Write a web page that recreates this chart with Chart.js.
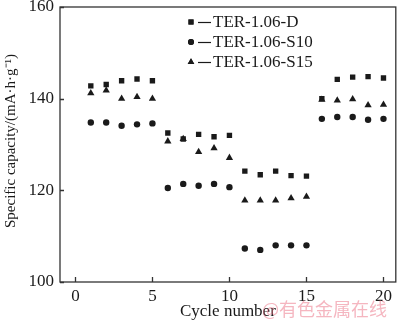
<!DOCTYPE html>
<html>
<head>
<meta charset="utf-8">
<script src="https://cdn.jsdelivr.net/npm/chart.js@4"></script>
<style>
  html, body { margin: 0; padding: 0; background: #fff; }
  #wrap { width: 400px; height: 323px; }
</style>
</head>
<body>
<div id="wrap"><canvas id="chart"></canvas></div>
<script>
// cycle numbers
const cycles = [1, 2, 3, 4, 5, 6, 7, 8, 9, 10, 11, 12, 13, 14, 15, 16, 17, 18, 19, 20];

// specific capacity, mA·h/g
const terD   = [142.8, 143.1, 143.9, 144.3, 143.9, 132.5, 131.2, 132.2, 131.7, 132.0,
                124.2, 123.4, 124.2, 123.2, 123.1, 140.0, 144.2, 144.7, 144.8, 144.5];
const terS10 = [134.8, 134.8, 134.1, 134.4, 134.6, 120.5, 121.4, 121.0, 121.4, 120.7,
                107.3, 107.0, 108.0, 108.0, 108.0, 135.6, 136.0, 136.0, 135.4, 135.6];
const terS15 = [141.2, 141.8, 140.0, 140.4, 140.0, 130.7, 131.2, 128.4, 129.2, 127.1,
                117.8, 117.8, 117.8, 118.3, 118.6, 139.8, 139.6, 139.9, 138.6, 138.7];

const seriesNames = ['TER-1.06-D', 'TER-1.06-S10', 'TER-1.06-S15'];
const xTicks = [0, 5, 10, 15, 20];
const yTicks = [100, 120, 140, 160];
const yTitle = 'Specific capacity/(mA·h·g⁻¹)';

const ink = '#1a1a1a';
const serif = '"Liberation Serif", "Times New Roman", serif';

function toPoints(vals) {
    return vals.map((v, i) => ({ x: cycles[i], y: v }));
}

// frame, inward ticks, y title, legend and watermark
const decor = {
    id: 'decor',
    afterDraw(chart) {
        const ctx = chart.ctx;
        const a = chart.chartArea;
        const xs = chart.scales.x, ys = chart.scales.y;
        ctx.save();
        ctx.strokeStyle = '#333';
        ctx.lineWidth = 1.3;
        ctx.strokeRect(a.left, a.top, a.right - a.left, a.bottom - a.top);
        ctx.beginPath();
        xTicks.forEach(t => {
            const px = Math.round(xs.getPixelForValue(t)) + 0.5;
            ctx.moveTo(px, a.bottom);
            ctx.lineTo(px, a.bottom - 5);
        });
        yTicks.forEach(t => {
            const py = Math.round(ys.getPixelForValue(t)) + 0.5;
            ctx.moveTo(a.left, py);
            ctx.lineTo(a.left + 4, py);
        });
        ctx.stroke();

        // y axis title
        ctx.save();
        ctx.translate(11, 141);
        ctx.rotate(-Math.PI / 2);
        ctx.font = '15px ' + serif;
        ctx.fillStyle = ink;
        ctx.textAlign = 'center';
        ctx.textBaseline = 'middle';
        ctx.fillText(yTitle, 0, 0);
        ctx.restore();

        // legend
        const styles = ['rect', 'circle', 'triangle'];
        const radii = [3.6, 3, 3.8];
        ctx.font = '17px ' + serif;
        ctx.textBaseline = 'middle';
        ctx.fillStyle = ink;
        seriesNames.forEach((name, i) => {
            const y = 22 + i * 20;
            Chart.helpers.drawPoint(ctx, { pointStyle: styles[i], radius: radii[i], borderWidth: 0, rotation: 0 }, 191, y);
            ctx.fill();
            ctx.beginPath();
            ctx.lineWidth = 1.2;
            ctx.strokeStyle = ink;
            ctx.moveTo(198, y + 0.5);
            ctx.lineTo(211, y + 0.5);
            ctx.stroke();
            ctx.fillText(name, 213, y + 1);
        });

        // watermark
        ctx.font = '18px "Noto Sans CJK SC", sans-serif';
        ctx.fillStyle = 'rgba(236, 110, 130, 0.5)';
        ctx.textBaseline = 'middle';
        ctx.fillText('@有色金属在线', 262, 309);
        ctx.restore();
    }
};

function noPad(s) {
    s.paddingTop = 0;
    s.paddingBottom = 0;
    s.paddingLeft = 0;
    s.paddingRight = 0;
}

new Chart(document.getElementById('chart'), {
    type: 'scatter',
    data: {
        datasets: [
            { label: seriesNames[0], data: toPoints(terD), pointStyle: 'rect', pointRadius: 3.8,
              backgroundColor: ink, borderColor: ink, borderWidth: 0 },
            { label: seriesNames[1], data: toPoints(terS10), pointStyle: 'circle', pointRadius: 3.2,
              backgroundColor: ink, borderColor: ink, borderWidth: 0 },
            { label: seriesNames[2], data: toPoints(terS15), pointStyle: 'triangle', pointRadius: 4.2,
              backgroundColor: ink, borderColor: ink, borderWidth: 0 }
        ]
    },
    options: {
        responsive: true,
        maintainAspectRatio: false,
        animation: false,
        layout: { padding: { top: 7, right: 4, left: 0, bottom: 0 } },
        plugins: {
            legend: { display: false },
            tooltip: { enabled: false }
        },
        scales: {
            x: {
                type: 'linear',
                min: -1,
                max: 20.8,
                afterBuildTicks: s => { s.ticks = xTicks.map(v => ({ value: v })); },
                afterFit: s => { s.height = 41; noPad(s); },
                grid: { display: false, drawTicks: false },
                border: { display: false },
                ticks: { color: ink, font: { family: serif, size: 17 }, padding: 4, maxRotation: 0 },
                title: { display: true, text: 'Cycle number', color: ink,
                         font: { family: serif, size: 17 }, padding: { top: 0, bottom: 1 } }
            },
            y: {
                min: 100,
                max: 160,
                afterBuildTicks: s => { s.ticks = yTicks.map(v => ({ value: v })); },
                afterFit: s => { s.width = 60; noPad(s); },
                grid: { display: false, drawTicks: false },
                border: { display: false },
                ticks: { color: ink, font: { family: serif, size: 17 }, padding: 6 }
            }
        }
    },
    plugins: [decor]
});
</script>
</body>
</html>
